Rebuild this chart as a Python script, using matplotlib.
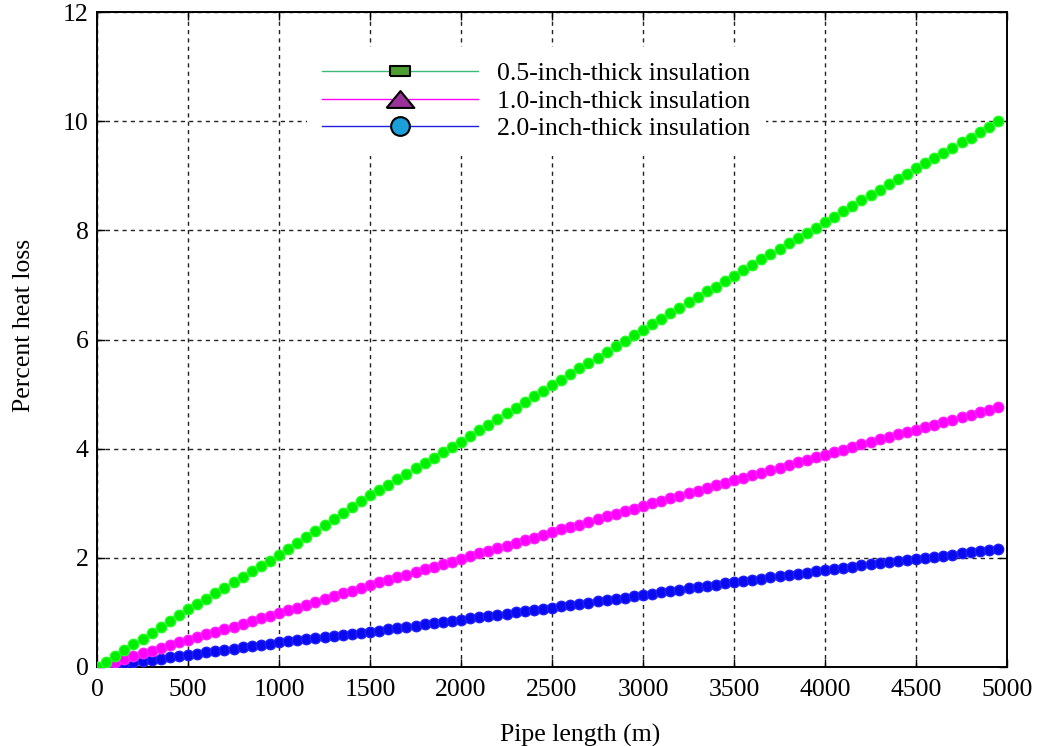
import matplotlib
matplotlib.use("Agg")
import matplotlib.pyplot as plt
from matplotlib.lines import Line2D

plt.rcParams['font.family'] = ['Liberation Serif', 'DejaVu Serif']

# pipe length (m), one marker every 50 m
pipe_length = [0, 50, 100, 150, 200, 250, 300, 350, 400, 450,
               500, 550, 600, 650, 700, 750, 800, 850, 900, 950,
               1000, 1050, 1100, 1150, 1200, 1250, 1300, 1350, 1400, 1450,
               1500, 1550, 1600, 1650, 1700, 1750, 1800, 1850, 1900, 1950,
               2000, 2050, 2100, 2150, 2200, 2250, 2300, 2350, 2400, 2450,
               2500, 2550, 2600, 2650, 2700, 2750, 2800, 2850, 2900, 2950,
               3000, 3050, 3100, 3150, 3200, 3250, 3300, 3350, 3400, 3450,
               3500, 3550, 3600, 3650, 3700, 3750, 3800, 3850, 3900, 3950,
               4000, 4050, 4100, 4150, 4200, 4250, 4300, 4350, 4400, 4450,
               4500, 4550, 4600, 4650, 4700, 4750, 4800, 4850, 4900, 4950]

# 0.5 inch insulation (starts at 0 m)
loss_05 = [0.00, 0.09, 0.21, 0.31, 0.42, 0.52, 0.63, 0.73, 0.84, 0.95,
           1.06, 1.15, 1.25, 1.35, 1.44, 1.55, 1.65, 1.75, 1.85, 1.95,
           2.05, 2.17, 2.28, 2.39, 2.49, 2.60, 2.72, 2.82, 2.93, 3.04,
           3.15, 3.24, 3.34, 3.44, 3.54, 3.64, 3.74, 3.83, 3.93, 4.03,
           4.13, 4.24, 4.34, 4.44, 4.54, 4.65, 4.75, 4.85, 4.96, 5.06,
           5.16, 5.26, 5.37, 5.47, 5.57, 5.67, 5.77, 5.88, 5.98, 6.08,
           6.18, 6.28, 6.38, 6.48, 6.58, 6.68, 6.78, 6.88, 6.97, 7.07,
           7.17, 7.27, 7.37, 7.47, 7.56, 7.66, 7.76, 7.86, 7.95, 8.05,
           8.15, 8.25, 8.35, 8.45, 8.55, 8.65, 8.74, 8.84, 8.94, 9.04,
           9.14, 9.24, 9.33, 9.42, 9.51, 9.61, 9.70, 9.80, 9.90, 10.00]

# 1.0 inch insulation (starts at 50 m)
loss_10 = [0.05, 0.10, 0.15, 0.20, 0.25, 0.30, 0.35, 0.40, 0.45, 0.50,
           0.55, 0.60, 0.64, 0.69, 0.74, 0.79, 0.84, 0.89, 0.94, 0.99,
           1.04, 1.09, 1.14, 1.19, 1.24, 1.30, 1.35, 1.40, 1.45, 1.50,
           1.55, 1.59, 1.64, 1.69, 1.74, 1.79, 1.83, 1.88, 1.93, 1.98,
           2.03, 2.08, 2.13, 2.18, 2.22, 2.27, 2.32, 2.37, 2.42, 2.47,
           2.52, 2.57, 2.61, 2.66, 2.71, 2.76, 2.81, 2.85, 2.90, 2.95,
           3.00, 3.04, 3.09, 3.14, 3.18, 3.23, 3.28, 3.33, 3.37, 3.42,
           3.47, 3.51, 3.56, 3.61, 3.65, 3.70, 3.75, 3.80, 3.84, 3.89,
           3.94, 3.98, 4.03, 4.08, 4.12, 4.17, 4.21, 4.26, 4.30, 4.35,
           4.40, 4.44, 4.49, 4.53, 4.58, 4.62, 4.67, 4.71, 4.76]

# 2.0 inch insulation (starts at 50 m)
loss_20 = [0.02, 0.04, 0.07, 0.09, 0.11, 0.13, 0.15, 0.18, 0.20, 0.22,
           0.24, 0.27, 0.29, 0.31, 0.33, 0.36, 0.38, 0.40, 0.42, 0.45,
           0.47, 0.49, 0.51, 0.53, 0.55, 0.57, 0.59, 0.61, 0.62, 0.64,
           0.66, 0.69, 0.71, 0.73, 0.75, 0.78, 0.80, 0.82, 0.85, 0.87,
           0.89, 0.91, 0.94, 0.96, 0.98, 1.00, 1.02, 1.05, 1.07, 1.09,
           1.11, 1.14, 1.16, 1.18, 1.20, 1.23, 1.25, 1.27, 1.30, 1.32,
           1.34, 1.37, 1.39, 1.41, 1.44, 1.46, 1.48, 1.50, 1.53, 1.55,
           1.57, 1.60, 1.62, 1.64, 1.67, 1.69, 1.71, 1.73, 1.76, 1.78,
           1.80, 1.82, 1.84, 1.86, 1.88, 1.90, 1.92, 1.94, 1.96, 1.98,
           2.00, 2.02, 2.04, 2.06, 2.08, 2.10, 2.12, 2.14, 2.16]

labels = ['0.5-inch-thick insulation', '1.0-inch-thick insulation',
          '2.0-inch-thick insulation']

fig = plt.figure(figsize=(10.39, 7.46), dpi=100)
ax = fig.add_axes([0.0934, 0.1059, 0.8758, 0.878])

ms = 7.5
ax.plot(pipe_length[1:], loss_20, 'o', color='#0a0aee', ms=ms, mec='#2020ff', zorder=3)
ax.plot(pipe_length[1:], loss_10, 'o', color='#ff00ff', ms=ms, mec='#ff22ff', zorder=3)
ax.plot(pipe_length, loss_05, 'o', color='#00ee00', ms=ms, mec='#22ff22', zorder=3)

ax.set_xlim(0, 5000)
ax.set_ylim(0, 12)
ax.set_xticks(range(0, 5001, 500))
ax.set_yticks(range(0, 13, 2))
ax.grid(True, color='#222222', linestyle=(0, (3, 3)), linewidth=1.0)
ax.tick_params(direction='in', top=True, right=True, length=6, width=1,
               labelsize=18.5)
ax.tick_params(axis='x', pad=9)
ax.tick_params(axis='y', pad=6)
for s in ax.spines.values():
    s.set_linewidth(1.4)

ax.set_xlabel('Pipe length (m)', fontsize=18.5, labelpad=16)
ax.set_ylabel('Percent heat loss', fontsize=18.5, labelpad=20)
ax.xaxis.label.set_x(0.531)
ax.yaxis.label.set_y(0.522)

# legend with custom marker handles
rect = [(-1.9, -1), (1.9, -1), (1.9, 1), (-1.9, 1), (-1.9, -1)]
tri = [(-1.65, -1), (1.65, -1), (0, 1), (-1.65, -1)]
handles = [
    Line2D([], [], color='#3cb878', lw=1, marker=rect, ms=15,
           mfc='#4c9e30', mec='black', mew=1.5),
    Line2D([], [], color='#ff00ff', lw=1, marker=tri, ms=20,
           mfc='#993399', mec='black', mew=1.5),
    Line2D([], [], color='#2020dd', lw=1, marker='o', ms=13.5,
           mfc='#1a9fd9', mec='black', mew=1.5),
]
leg = ax.legend(handles, labels, loc='upper left',
                bbox_to_anchor=(307 / 1039, 1 - 47 / 746),
                bbox_transform=fig.transFigure, fontsize=18.5,
                handlelength=6.07, handletextpad=0.74, labelspacing=0.17,
                borderpad=0.6, borderaxespad=0, fancybox=False, framealpha=1)
leg.get_frame().set_edgecolor('none')
leg.get_frame().set_facecolor('white')

fig.savefig('out.png', dpi=100)
